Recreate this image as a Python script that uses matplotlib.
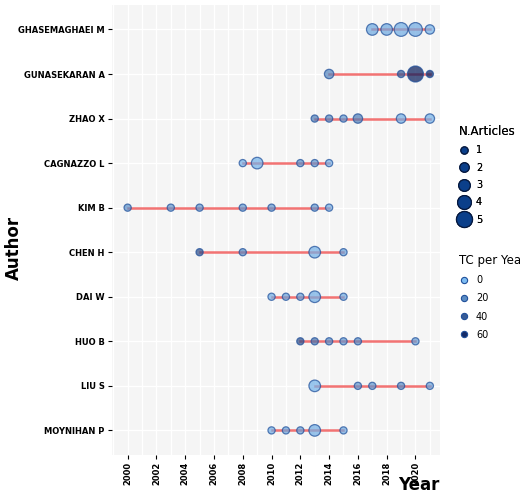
import matplotlib
matplotlib.use("Agg")
import matplotlib.pyplot as plt
import numpy as np
from matplotlib.colors import LinearSegmentedColormap, Normalize
from matplotlib.lines import Line2D

authors = ["GHASEMAGHAEI M", "GUNASEKARAN A", "ZHAO X", "CAGNAZZO L", "KIM B",
           "CHEN H", "DAI W", "HUO B", "LIU S", "MOYNIHAN P"]
years = [
    [2017, 2018, 2019, 2020, 2021],
    [2014, 2019, 2020, 2021],
    [2013, 2014, 2015, 2016, 2019, 2021],
    [2008, 2009, 2012, 2013, 2014],
    [2000, 2003, 2005, 2008, 2010, 2013, 2014],
    [2005, 2008, 2013, 2015],
    [2010, 2011, 2012, 2013, 2015],
    [2012, 2013, 2014, 2015, 2016, 2020],
    [2013, 2016, 2017, 2019, 2021],
    [2010, 2011, 2012, 2013, 2015],
]
n_articles = [
    [3, 3, 4, 4, 2],
    [2, 1, 5, 1],
    [1, 1, 1, 2, 2, 2],
    [1, 3, 1, 1, 1],
    [1, 1, 1, 1, 1, 1, 1],
    [1, 1, 3, 1],
    [1, 1, 1, 3, 1],
    [1, 1, 1, 1, 1, 1],
    [3, 1, 1, 1, 1],
    [1, 1, 1, 3, 1],
]
tc_per_year = [
    [8, 8, 6, 7, 4],
    [22, 40, 65, 62],
    [25, 22, 15, 25, 6, 4],
    [5, 4, 18, 15, 4],
    [18, 15, 15, 15, 15, 15, 6],
    [45, 20, 5, 10],
    [6, 10, 12, 6, 8],
    [45, 30, 20, 15, 20, 12],
    [4, 15, 15, 20, 10],
    [6, 10, 12, 6, 8],
]

cmap = LinearSegmentedColormap.from_list("tc", ["#7dbcf2", "#0a1e5c"])
norm = Normalize(0, 65)

def s_of(n):
    d = 5.0 + 2.2 * n  # pixel diameter
    return (d * 0.72) ** 2

fig = plt.figure(figsize=(5.2, 4.95), dpi=100)
ax = fig.add_axes([0.215, 0.081, 0.631, 0.909])
ax.set_facecolor("#f5f5f5")
ax.set_xlim(1998.9, 2021.7)
ax.set_ylim(len(authors) - 0.5 + 0.05, -0.55)
ax.set_xticks(range(2000, 2021, 2))
ax.set_xticks(range(1999, 2022, 1), minor=True)
ax.grid(True, which="both", color="white", lw=0.9)
ax.set_axisbelow(True)
for sp in ax.spines.values():
    sp.set_visible(False)

for i, a in enumerate(authors):
    ys = years[i]
    ax.plot([min(ys), max(ys)], [i, i], color="#f05a5a", lw=1.8, alpha=0.85, zorder=2)
    cols = cmap(norm(np.array(tc_per_year[i])))
    ax.scatter(ys, [i] * len(ys), s=[s_of(n) for n in n_articles[i]],
               c=cols, alpha=0.72, edgecolors="#1f4f9a", linewidths=0.9, zorder=3)

ax.set_yticks(range(len(authors)))
ax.set_yticklabels(authors, fontsize=6, fontweight="bold")
ax.tick_params(axis="x", labelrotation=90, labelsize=6, length=3, pad=2)
ax.tick_params(axis="y", length=3, pad=2)
for t in ax.get_xticklabels():
    t.set_fontweight("bold")
ax.tick_params(which="minor", length=0)
fig.text(0.027, 0.5, "Author", rotation=90, fontsize=12, fontweight="bold",
         ha="center", va="center")
fig.text(0.846, 0.003, "Year", fontsize=12, fontweight="bold", ha="right", va="bottom")

h1 = [Line2D([], [], ls="", marker="o", markersize=np.sqrt(s_of(n)),
             markerfacecolor="#0b3f8a", markeredgecolor="#071a40", markeredgewidth=0.9)
      for n in range(1, 6)]
leg1 = fig.legend(h1, [str(n) for n in range(1, 6)], title="N.Articles",
                  loc="upper left", bbox_to_anchor=(0.865, 0.765), frameon=False,
                  fontsize=7, title_fontsize=8.5, labelspacing=0.75, handletextpad=0.6,
                  handlelength=1.2, alignment="left")
fig.add_artist(leg1)
h2 = [Line2D([], [], ls="", marker="o", markersize=4.5,
             markerfacecolor=cmap(norm(v)), markeredgecolor="#1f4f9a", markeredgewidth=0.8)
      for v in [0, 20, 40, 60]]
fig.legend(h2, ["0", "20", "40", "60"], title="TC per Year",
           loc="upper left", bbox_to_anchor=(0.865, 0.505), frameon=False,
           fontsize=7, title_fontsize=8.5, labelspacing=0.85, handletextpad=0.6,
           handlelength=1.2, alignment="left")

fig.savefig("out.png", dpi=100)
